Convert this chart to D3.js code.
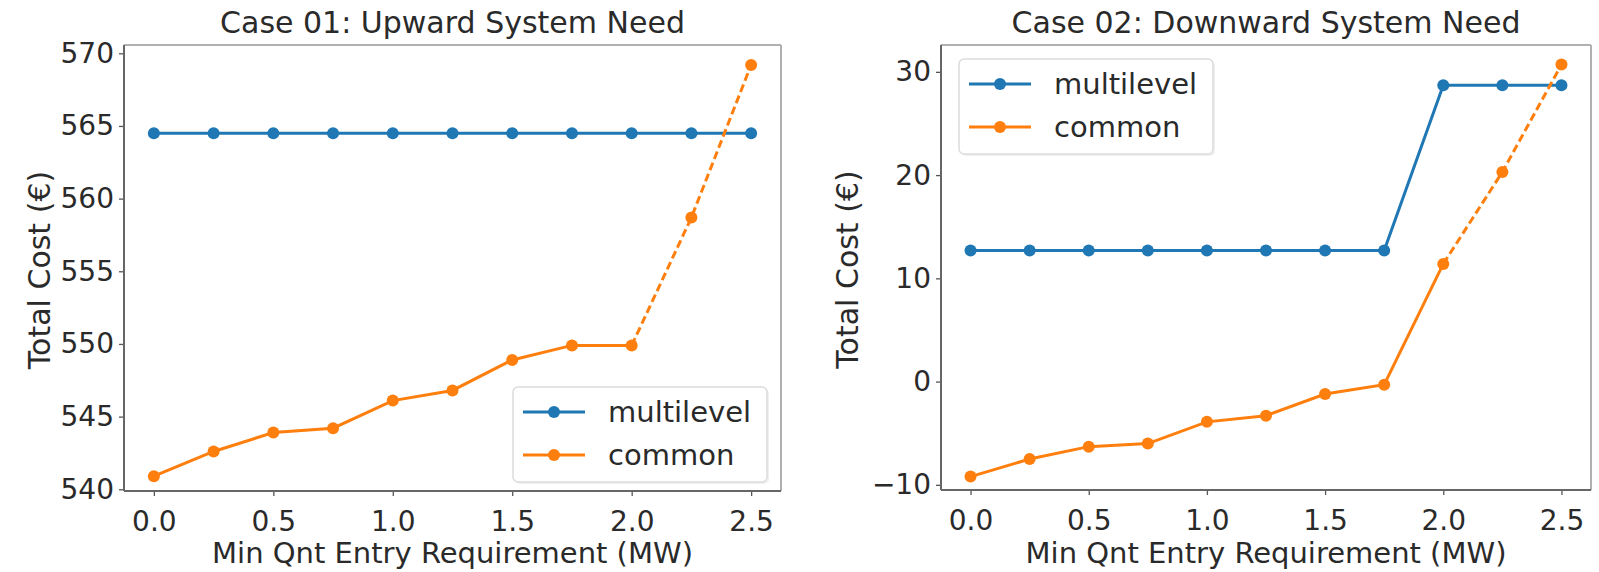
<!DOCTYPE html>
<html>
<head>
<meta charset="utf-8">
<script src="https://cdn.jsdelivr.net/npm/d3@7"></script>
<style>
  html, body { margin: 0; padding: 0; background: #fff; }
  svg { display: block; }
  text { font-family: "DejaVu Sans", sans-serif; fill: #2a2a2a; }
</style>
</head>
<body>
<svg id="chart" width="1599" height="572"></svg>
<script>
// ---------------- data ----------------
const xValues = [0, 0.25, 0.5, 0.75, 1.0, 1.25, 1.5, 1.75, 2.0, 2.25, 2.5];
const xTicks = [0, 0.5, 1.0, 1.5, 2.0, 2.5];
const seriesNames = ["multilevel", "common"];

const case01Title = "Case 01: Upward System Need";
const case01Multilevel = [564.5, 564.5, 564.5, 564.5, 564.5, 564.5, 564.5, 564.5, 564.5, 564.5, 564.5];
const case01Common = [540.9, 542.6, 543.9, 544.2, 546.1, 546.8, 548.9, 549.9, 549.9, 558.7, 569.2];
const case01YTicks = [540, 545, 550, 555, 560, 565, 570];

const case02Title = "Case 02: Downward System Need";
const case02Multilevel = [12.7, 12.7, 12.7, 12.7, 12.7, 12.7, 12.7, 12.7, 28.7, 28.7, 28.7];
const case02Common = [-9.2, -7.5, -6.3, -6.0, -3.9, -3.3, -1.2, -0.3, 11.4, 20.3, 30.7];
const case02YTicks = [-10, 0, 10, 20, 30];

const commonSolidLastX = 2.0;   // common series is dashed beyond this x
const xLabel = "Min Qnt Entry Requirement (MW)";
const yLabel = "Total Cost (€)";

// ---------------- drawing ----------------
const COLORS = { multilevel: "#1f77b4", common: "#ff7f0e" };
const TICK_FONT = 28;
const LABEL_FONT = 30;
const svg = d3.select("#chart");

function panel(cfg) {
  const g = svg.append("g");
  const x = d3.scaleLinear().domain([-0.125, 2.625]).range([cfg.left, cfg.right]);
  const y = d3.scaleLinear().domain(cfg.yDomain).range([cfg.bottom, cfg.top]);

  // axes
  const ax = g.append("g").attr("transform", `translate(0,${cfg.bottom})`)
    .call(d3.axisBottom(x).tickValues(xTicks).tickFormat(d3.format(".1f")).tickSize(5).tickPadding(15));
  const ay = g.append("g").attr("transform", `translate(${cfg.left},0)`)
    .call(d3.axisLeft(y).tickValues(cfg.yTicks).tickFormat(d => d < 0 ? "\u2212" + Math.abs(d) : d).tickSize(5).tickPadding(5));
  [ax, ay].forEach(a => {
    a.select(".domain").remove();
    a.selectAll("line").attr("stroke", "#555").attr("stroke-width", 1.3);
    a.selectAll("text").style("font-size", TICK_FONT + "px").attr("fill", "#2a2a2a");
  });

  // frame
  g.append("line").attr("x1", cfg.left).attr("x2", cfg.right).attr("y1", cfg.top).attr("y2", cfg.top)
    .attr("stroke", "#b0b0b0").attr("stroke-width", 2);
  g.append("line").attr("x1", cfg.right).attr("x2", cfg.right).attr("y1", cfg.top).attr("y2", cfg.bottom)
    .attr("stroke", "#b0b0b0").attr("stroke-width", 2);
  g.append("line").attr("x1", cfg.left).attr("x2", cfg.left).attr("y1", cfg.top).attr("y2", cfg.bottom)
    .attr("stroke", "#666").attr("stroke-width", 2);
  g.append("line").attr("x1", cfg.left).attr("x2", cfg.right).attr("y1", cfg.bottom).attr("y2", cfg.bottom)
    .attr("stroke", "#666").attr("stroke-width", 2);

  const line = d3.line().x(d => x(d[0])).y(d => y(d[1]));
  const multi = xValues.map((v, i) => [v, cfg.multilevel[i]]);
  const common = xValues.map((v, i) => [v, cfg.common[i]]);
  const commonSolid = common.filter(d => d[0] <= commonSolidLastX);
  const commonDashed = common.filter(d => d[0] >= commonSolidLastX);

  g.append("path").attr("d", line(multi)).attr("fill", "none")
    .attr("stroke", COLORS.multilevel).attr("stroke-width", 3);
  g.append("path").attr("d", line(commonSolid)).attr("fill", "none")
    .attr("stroke", COLORS.common).attr("stroke-width", 3);
  g.append("path").attr("d", line(commonDashed)).attr("fill", "none")
    .attr("stroke", COLORS.common).attr("stroke-width", 3).attr("stroke-dasharray", "8,4");

  g.selectAll(".pm").data(multi).enter().append("circle")
    .attr("cx", d => x(d[0])).attr("cy", d => y(d[1])).attr("r", 6).attr("fill", COLORS.multilevel);
  g.selectAll(".pc").data(common).enter().append("circle")
    .attr("cx", d => x(d[0])).attr("cy", d => y(d[1])).attr("r", 6).attr("fill", COLORS.common);

  // title & labels
  const cx = (cfg.left + cfg.right) / 2;
  g.append("text").attr("x", cx).attr("y", 33).attr("text-anchor", "middle")
    .style("font-size", LABEL_FONT + "px").text(cfg.title);
  g.append("text").attr("x", cx).attr("y", 563).attr("text-anchor", "middle")
    .style("font-size", "29px").text(xLabel);
  const ly = (cfg.top + cfg.bottom) / 2 + 2;
  g.append("text").attr("transform", `translate(${cfg.yLabelX},${ly}) rotate(-90)`)
    .attr("text-anchor", "middle").style("font-size", LABEL_FONT + "px").text(yLabel);

  // legend
  const L = cfg.legend;
  const lg = g.append("g");
  lg.append("rect").attr("x", L.x + 2).attr("y", L.y + 2).attr("width", 254).attr("height", 95)
    .attr("rx", 5).attr("fill", "#f0f0f0");
  lg.append("rect").attr("x", L.x).attr("y", L.y).attr("width", 254).attr("height", 95)
    .attr("rx", 5).attr("fill", "#fff").attr("stroke", "#dcdcdc").attr("stroke-width", 1.5);
  seriesNames.forEach((name, i) => {
    const ry = L.y + 25 + i * 43;
    lg.append("line").attr("x1", L.x + 10).attr("x2", L.x + 72).attr("y1", ry).attr("y2", ry)
      .attr("stroke", COLORS[name]).attr("stroke-width", 3);
    lg.append("circle").attr("cx", L.x + 41).attr("cy", ry).attr("r", 6).attr("fill", COLORS[name]);
    lg.append("text").attr("x", L.x + 95).attr("y", ry).attr("dy", "0.35em")
      .style("font-size", "29px").text(name);
  });
}

panel({
  left: 124, right: 781, top: 45, bottom: 491,
  yDomain: [539.88, 570.57], yTicks: case01YTicks,
  multilevel: case01Multilevel, common: case01Common,
  title: case01Title, yLabelX: 50,
  legend: { x: 513, y: 387 }
});
panel({
  left: 941, right: 1591, top: 45, bottom: 490,
  yDomain: [-10.5, 32.6], yTicks: case02YTicks,
  multilevel: case02Multilevel, common: case02Common,
  title: case02Title, yLabelX: 858,
  legend: { x: 959, y: 59 }
});
</script>
</body>
</html>
